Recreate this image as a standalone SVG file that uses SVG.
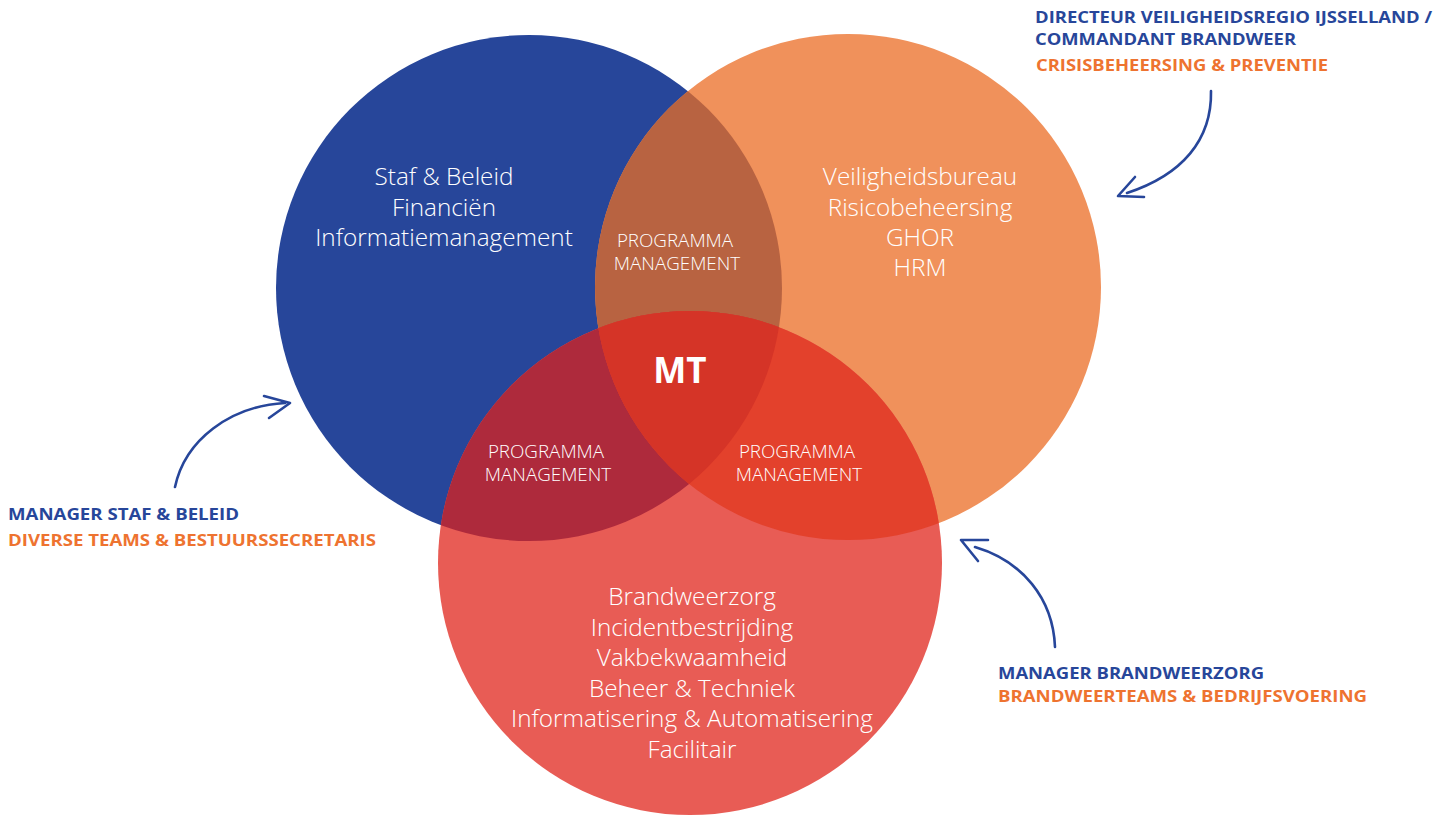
<svg xmlns="http://www.w3.org/2000/svg" width="1446" height="816" viewBox="0 0 1446 816">
<style>
.body{font-family:"Open Sans","Noto Sans",sans-serif;font-weight:300;fill:#ffffff;text-anchor:middle;font-size:24.3px}
.pm{font-family:"Open Sans","Noto Sans",sans-serif;font-weight:300;fill:#ffffff;text-anchor:middle;font-size:18.8px}
.mt{font-family:"Open Sans","Noto Sans",sans-serif;font-weight:700;fill:#ffffff;text-anchor:middle;font-size:35px}
.lb{font-family:"Open Sans","Liberation Sans",sans-serif;font-weight:700;font-size:16px}
.blue{fill:#27469A}
.orange{fill:#EE7330}
.conn{fill:none;stroke:#27469A;stroke-width:2.6;stroke-linecap:round;stroke-linejoin:round}
</style>
<defs>
<clipPath id="cB"><circle cx="529" cy="288" r="253"/></clipPath>
<clipPath id="cO"><circle cx="848" cy="287" r="253"/></clipPath>
<clipPath id="cR"><circle cx="690" cy="563" r="252"/></clipPath>
</defs>
<rect width="1446" height="816" fill="#ffffff"/>
<g id="circle-staf">
<circle cx="529" cy="288" r="253" fill="#27469A"/>
</g>
<g id="circle-veiligheid">
<circle cx="848" cy="287" r="253" fill="#F0915B"/>
</g>
<g id="circle-brandweer">
<circle cx="690" cy="563" r="252" fill="#E85C55"/>
</g>
<g id="overlap-staf-veiligheid">
<circle cx="848" cy="287" r="253" fill="#B86341" clip-path="url(#cB)"/>
</g>
<g id="overlap-staf-brandweer">
<circle cx="690" cy="563" r="252" fill="#AE2A3C" clip-path="url(#cB)"/>
</g>
<g id="overlap-veiligheid-brandweer">
<circle cx="690" cy="563" r="252" fill="#E3412C" clip-path="url(#cO)"/>
</g>
<g id="overlap-mt">
<g clip-path="url(#cB)"><circle cx="690" cy="563" r="252" fill="#D53427" clip-path="url(#cO)"/></g>
</g>
<g id="text-staf">
<text class="body" x="444" y="185">Staf &amp; Beleid</text>
<text class="body" x="444" y="216">Financiën</text>
<text class="body" x="444" y="246">Informatiemanagement</text>
</g>
<g id="text-veiligheid">
<text class="body" x="920" y="185">Veiligheidsbureau</text>
<text class="body" x="920" y="216">Risicobeheersing</text>
<text class="body" x="920" y="246">GHOR</text>
<text class="body" x="920" y="276">HRM</text>
</g>
<g id="text-brandweer">
<text class="body" x="692" y="605">Brandweerzorg</text>
<text class="body" x="692" y="636">Incidentbestrijding</text>
<text class="body" x="692" y="666">Vakbekwaamheid</text>
<text class="body" x="692" y="697">Beheer &amp; Techniek</text>
<text class="body" x="692" y="727">Informatisering &amp; Automatisering</text>
<text class="body" x="692" y="758">Facilitair</text>
</g>
<g id="pm-top">
<text class="pm" x="675" y="247">PROGRAMMA</text>
<text class="pm" x="677" y="270">MANAGEMENT</text>
</g>
<g id="pm-left">
<text class="pm" x="546" y="458">PROGRAMMA</text>
<text class="pm" x="548" y="481">MANAGEMENT</text>
</g>
<g id="pm-right">
<text class="pm" x="797" y="458">PROGRAMMA</text>
<text class="pm" x="799" y="481">MANAGEMENT</text>
</g>
<g id="mt">
<text class="mt" x="680" y="383">MT</text>
</g>
<g id="label-directeur">
<text class="lb blue" x="1035" y="23" textLength="397" lengthAdjust="spacingAndGlyphs">DIRECTEUR VEILIGHEIDSREGIO IJSSELLAND /</text>
<text class="lb blue" x="1035" y="45" textLength="261" lengthAdjust="spacingAndGlyphs">COMMANDANT BRANDWEER</text>
<text class="lb orange" x="1036" y="71" textLength="292" lengthAdjust="spacingAndGlyphs">CRISISBEHEERSING &amp; PREVENTIE</text>
</g>
<g id="label-staf">
<text class="lb blue" x="8" y="520" textLength="231" lengthAdjust="spacingAndGlyphs">MANAGER STAF &amp; BELEID</text>
<text class="lb orange" x="8" y="546" textLength="368" lengthAdjust="spacingAndGlyphs">DIVERSE TEAMS &amp; BESTUURSSECRETARIS</text>
</g>
<g id="label-brandweer">
<text class="lb blue" x="998" y="679" textLength="266" lengthAdjust="spacingAndGlyphs">MANAGER BRANDWEERZORG</text>
<text class="lb orange" x="998" y="702" textLength="369" lengthAdjust="spacingAndGlyphs">BRANDWEERTEAMS &amp; BEDRIJFSVOERING</text>
</g>
<g id="connectors">
<path class="conn" d="M1211,91 C1212,140 1182,175 1127,193"/>
<path class="conn" d="M1135,177 L1118,196 L1144,197"/>
<path class="conn" d="M175,487 C185,440 230,406 285,403"/>
<path class="conn" d="M264,396 L290,403 L269,418"/>
<path class="conn" d="M1055,647 C1053,598 1022,561 975,547"/>
<path class="conn" d="M988,540 L961,540 L978,561"/>
</g>
</svg>
